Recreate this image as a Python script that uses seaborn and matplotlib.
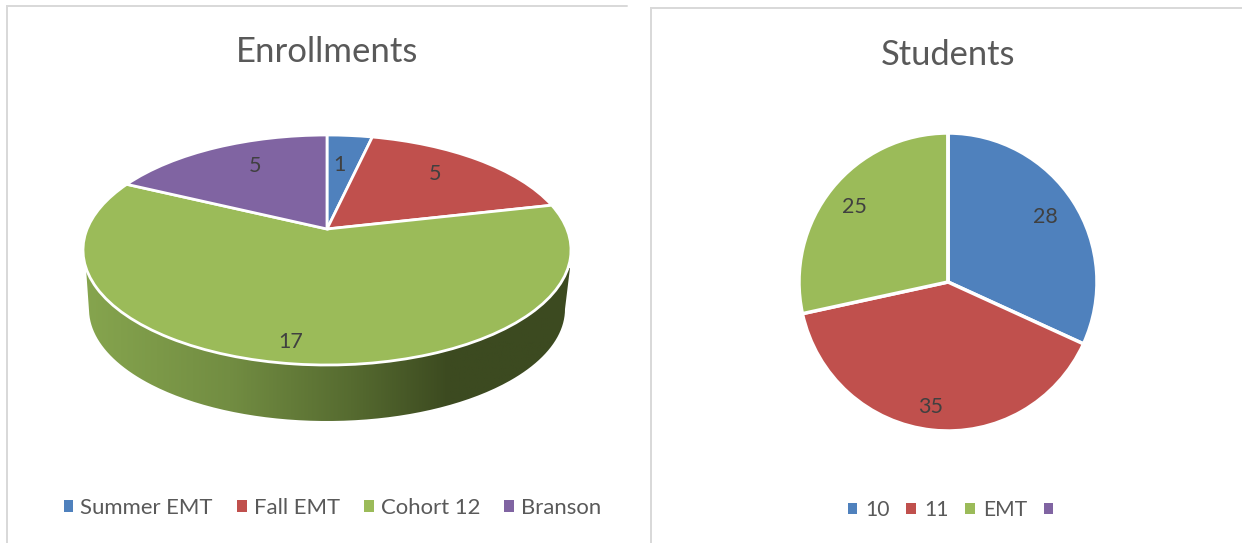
import numpy as np
import matplotlib
matplotlib.use("Agg")
import matplotlib.pyplot as plt
from matplotlib.colors import LinearSegmentedColormap
from matplotlib.patches import Patch, PathPatch
from matplotlib.path import Path
from matplotlib.transforms import Transform
import seaborn as sns

enroll_labels = ["Summer EMT", "Fall EMT", "Cohort 12", "Branson"]
enroll_values = [1, 5, 17, 5]
student_labels = ["10", "11", "EMT", ""]
student_values = [28, 35, 25, 0]

W, H = 1242, 543
FONT = "Lato"
TITLE_C = "#595959"
LABEL_C = "#404040"
FRAME_C = "#d9d9d9"

sns.set_theme(style="white")
plt.rcParams["font.family"] = [FONT, "DejaVu Sans"]
palette = sns.color_palette(["#4f81bd", "#c0504d", "#9bbb59", "#8064a2"])


class TiltedDisk(Transform):
    """Perspective view of a unit disk: its centre falls off the ellipse centre."""
    input_dims = output_dims = 2

    def __init__(self, cx, cy, rx, ry, apex):
        super().__init__()
        self.cx, self.cy, self.rx, self.ry = cx, cy, rx, ry
        self.c = apex / ry

    def transform_non_affine(self, values):
        pts = np.asarray(values, dtype=float)
        u, v = pts[:, 0], pts[:, 1]
        d = 1 + self.c * v
        x = self.rx * np.sqrt(1 - self.c ** 2) * u / d
        y = self.ry * (v + self.c) / d
        return np.column_stack([self.cx + x, self.cy + y])


def py(y):
    return H - y


def polar(w, r, shift, drop):
    a = np.deg2rad((w.theta1 + w.theta2) / 2 + shift)
    return w.center[0] + w.r * r * np.cos(a), w.center[1] + w.r * r * np.sin(a) - drop


fig = plt.figure(figsize=(W / 100, H / 100), dpi=100, facecolor="white")
ax = fig.add_axes([0, 0, 1, 1])

# Side wall of the tilted pie
CX, TOP_CY, RX, RY = 327, py(250), 244, 115
WALL_CY, WALL_RX, WALL_RY = py(309), 238, 112
ang = np.linspace(np.pi, 2 * np.pi, 200)
wall = np.vstack([
    [[CX - 241, py(268)]],
    np.column_stack([CX + WALL_RX * np.cos(ang), WALL_CY + WALL_RY * np.sin(ang)]),
    [[CX + 243, py(268)], [CX - 241, py(268)]],
])
wall_patch = PathPatch(Path(wall), facecolor="none", edgecolor="none", transform=ax.transData)
ax.add_patch(wall_patch)
wall_cmap = LinearSegmentedColormap.from_list(
    "wall", [(0, "#86a54e"), (0.3, "#728d42"), (0.55, "#566b30"), (0.75, "#3c4a20"), (1, "#3c4a20")]
)
grad = ax.imshow(
    np.linspace(0, 1, 256)[None, :], cmap=wall_cmap, aspect="equal",
    extent=(CX - 244, CX + 244, py(425), py(260)), zorder=1,
)
grad.set_clip_path(wall_patch)

# Tilted pie
tilt = TiltedDisk(CX, TOP_CY, RX, RY, apex=21)
wedges, _, autotexts = ax.pie(
    enroll_values, colors=palette, startangle=90, counterclock=False,
    autopct=lambda p: f"{p * sum(enroll_values) / 100:.0f}", pctdistance=1.0,
    wedgeprops=dict(edgecolor="white", linewidth=2, zorder=2),
    textprops=dict(color=LABEL_C, fontsize=15.5, zorder=5),
)
LEFT_RADII = [0.657, 0.744, 0.854, 0.725]
LEFT_SHIFTS = [1.5, 3.2, -2.1, -4.6]
for w, t, r, s in zip(wedges, autotexts, LEFT_RADII, LEFT_SHIFTS):
    w.set_transform(tilt + ax.transData)
    t.set_position(polar(w, r, s, 0.015))
    t.set_transform(tilt + ax.transData)

# Flat pie
wedges2, _, autotexts2 = ax.pie(
    student_values, colors=palette, startangle=90, counterclock=False,
    center=(948, py(282)), radius=149,
    autopct=lambda p: f"{p * sum(student_values) / 100:.0f}" if p > 0 else "",
    wedgeprops=dict(edgecolor="white", linewidth=2.5, zorder=2),
    textprops=dict(color=LABEL_C, fontsize=15.5, zorder=5),
)
RIGHT_RADII = [0.79, 0.84, 0.81, 0.8]
RIGHT_SHIFTS = [1.5, -1.8, -0.4, 0]
for w, t, r, s in zip(wedges2, autotexts2, RIGHT_RADII, RIGHT_SHIFTS):
    t.set_position(polar(w, r, s, 1))

ax.set_aspect("equal")
ax.set_xlim(0, W)
ax.set_ylim(0, H)
ax.set_position([0, 0, 1, 1])
ax.axis("off")

# Chart frames
ax.plot([7, 7, 627], [py(H), py(6), py(6)], color=FRAME_C, lw=1.44, zorder=0, solid_joinstyle="miter")
ax.plot([651, 651, W], [py(H), py(8), py(8)], color=FRAME_C, lw=1.44, zorder=0, solid_joinstyle="miter")

# Titles
ax.text(327, py(52), "Enrollments", ha="center", va="center", color=TITLE_C, fontsize=25)
ax.text(948, py(55), "Students", ha="center", va="center", color=TITLE_C, fontsize=24.8)

# Legends
def legend(labels, x, y, size, pad, spacing):
    handles = [Patch(facecolor=c, edgecolor="none", label=l) for c, l in zip(palette, labels)]
    return ax.legend(
        handles=handles, ncol=4, frameon=False, loc="center",
        bbox_to_anchor=(x / W, 1 - y / H), bbox_transform=fig.transFigure,
        fontsize=size, labelcolor=TITLE_C,
        handlelength=9.5 / (size / 0.72), handleheight=9.5 / (size / 0.72),
        handletextpad=pad, columnspacing=spacing, borderpad=0, borderaxespad=0,
    )

leg1 = legend(enroll_labels, 332.5, 508, 15.9, 0.32, 1.1)
ax.add_artist(leg1)
legend(student_labels, 954.5, 510, 15.2, 0.38, 0.8)

fig.savefig("out.png", dpi=100, facecolor="white")
